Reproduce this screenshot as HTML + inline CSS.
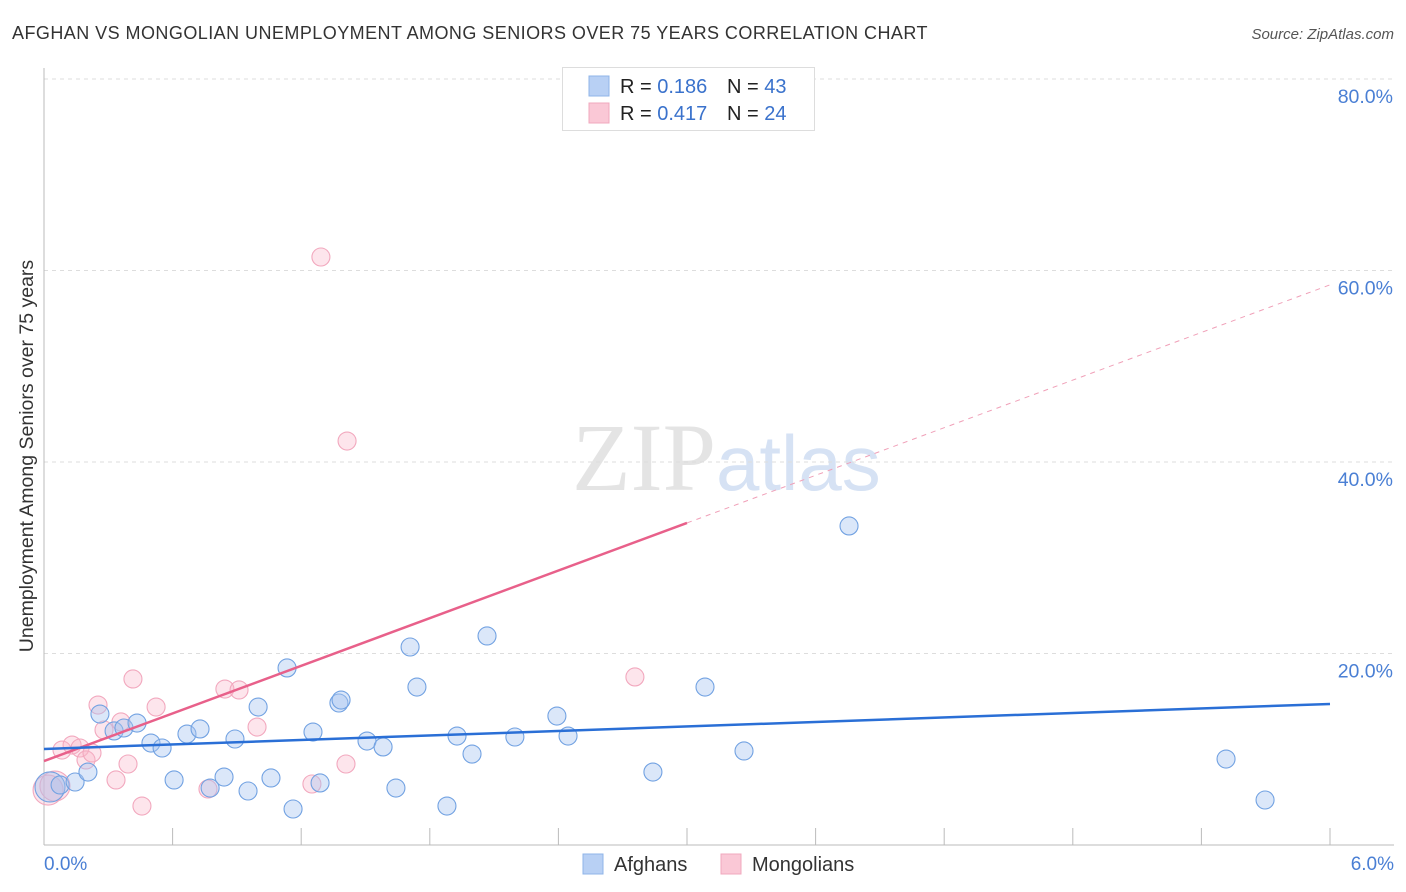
<!DOCTYPE html>
<html><head><meta charset="utf-8"><style>
body{margin:0;background:#fff;font-family:"Liberation Sans",sans-serif;}
svg{display:block}
</style></head><body>
<svg id="c" width="1406" height="892" xmlns="http://www.w3.org/2000/svg">
<text x="12" y="39" font-size="18" letter-spacing="0.45" fill="#333">AFGHAN VS MONGOLIAN UNEMPLOYMENT AMONG SENIORS OVER 75 YEARS CORRELATION CHART</text>
<text x="1394" y="39" font-size="15" font-style="italic" fill="#555" text-anchor="end">Source: ZipAtlas.com</text>
<text x="716" y="490" font-size="96" font-family="Liberation Serif,serif" fill="#e4e4e4" text-anchor="end">ZIP</text>
<text x="716" y="490" font-size="78" fill="#d6e2f4">atlas</text>
<g id="grid"></g><g id="axes"></g><g id="marks"></g>
<text transform="translate(33,456) rotate(-90)" font-size="19.5" fill="#333" text-anchor="middle">Unemployment Among Seniors over 75 years</text>
<text x="44" y="870" font-size="19" fill="#4a7fd4">0.0%</text>
<text x="1394" y="870" font-size="19" fill="#4a7fd4" text-anchor="end">6.0%</text>
<g>
<rect x="562.5" y="67.5" width="252" height="63" fill="#fff" stroke="#ddd"/>
<rect x="589" y="76" width="20" height="20" fill="#b8d0f4" stroke="#8fb4e8"/>
<rect x="589" y="103" width="20" height="20" fill="#fac8d6" stroke="#f0a8be"/>
<text x="620" y="93" font-size="20" fill="#222">R = <tspan fill="#3a72cc">0.186</tspan></text>
<text x="727" y="93" font-size="20" fill="#222">N = <tspan fill="#3a72cc">43</tspan></text>
<text x="620" y="120" font-size="20" fill="#222">R = <tspan fill="#3a72cc">0.417</tspan></text>
<text x="727" y="120" font-size="20" fill="#222">N = <tspan fill="#3a72cc">24</tspan></text>
</g>
<g>
<rect x="583" y="854" width="20" height="20" fill="#b8d0f4" stroke="#8fb4e8"/>
<text x="614" y="871" font-size="20" fill="#333">Afghans</text>
<rect x="721" y="854" width="20" height="20" fill="#fac8d6" stroke="#f0a8be"/>
<text x="752" y="871" font-size="20" fill="#333">Mongolians</text>
</g>
</svg>
<script>
const yTicks=[20,40,60,80];
const yTickLabels=["20.0%","40.0%","60.0%","80.0%"];
const xTicks=[0,0.6,1.2,1.8,2.4,3.0,3.6,4.2,4.8,5.4,6.0];
const afghanX=[0.028,0.075,0.145,0.205,0.261,0.327,0.373,0.434,0.499,0.551,0.607,0.667,0.728,0.775,0.840,0.891,0.952,0.999,1.059,1.134,1.162,1.255,1.288,1.376,1.386,1.507,1.582,1.642,1.708,1.740,1.880,1.927,1.997,2.067,2.197,2.393,2.445,2.841,3.084,3.266,3.756,5.515,5.697];
const afghanY=[6.06,6.27,6.58,7.62,13.68,11.91,12.22,12.74,10.65,10.13,6.79,11.59,12.12,5.95,7.10,11.07,5.64,14.41,7.00,18.49,3.76,11.80,6.48,14.83,15.14,10.86,10.24,5.95,20.68,16.50,4.07,11.38,9.50,21.83,11.28,13.47,11.38,7.62,16.50,9.82,33.32,8.98,4.70];
const mongolX=[0.019,0.051,0.084,0.131,0.168,0.196,0.224,0.252,0.280,0.336,0.359,0.392,0.415,0.457,0.523,0.765,0.844,0.910,0.994,1.250,1.292,1.409,1.414,2.757];
const mongolY=[5.74,6.16,9.92,10.44,10.13,8.88,9.61,14.62,12.01,6.79,12.85,8.46,17.34,4.07,14.41,5.85,16.29,16.19,12.32,6.37,61.41,8.46,42.19,17.55];
const afghanTrend=[10.03,14.73];
const mongolTrend=[8.77,58.5];
const mongolSolidEnd=3.0;
const NS="http://www.w3.org/2000/svg";
const X=v=>44+v/6*1286, Y=v=>845-v/20*191.5;
function mk(p,t,a){const e=document.createElementNS(NS,t);for(const k in a)e.setAttribute(k,a[k]);p.appendChild(e);return e;}
const grid=document.getElementById('grid'),axes=document.getElementById('axes'),marks=document.getElementById('marks');
yTicks.forEach((t,i)=>{
 const l=mk(grid,'line',{x1:44,x2:1394,y1:Y(t),y2:Y(t),stroke:'#ddd','stroke-dasharray':'4,4'});
 
 
 const tx=mk(grid,'text',{x:1393,y:Y(t)+24,'font-size':19.5,fill:'#4a7fd4','text-anchor':'end'});
 tx.textContent=yTickLabels[i];
 
 
});
const ya=mk(axes,'line',{x1:44,x2:44,y1:68,y2:845,stroke:'#bbb'});


const xa=mk(axes,'line',{x1:44,x2:1394,y1:845,y2:845,stroke:'#bbb'});


xTicks.forEach(t=>{
 const l=mk(axes,'line',{x1:X(t),x2:X(t),y1:828,y2:845,stroke:'#bbb'});
 
 
});
function pts(xs,ys,fill,stroke,name){
 xs.forEach((x,i)=>{
  const r=(i<2&&x<0.06)?15:9;
  const c=mk(marks,'circle',{cx:X(x),cy:Y(ys[i]),r:r,fill:fill,stroke:stroke,'stroke-width':1.1});
  
  
 });
}
pts(mongolX,mongolY,'rgba(248,180,200,0.35)','#f2a8be','mongolian-point');
pts(afghanX,afghanY,'rgba(164,196,240,0.4)','#72a2e2','afghan-point');
const slope=(mongolTrend[1]-mongolTrend[0])/6;
const ms=mk(marks,'line',{x1:X(0),y1:Y(mongolTrend[0]),x2:X(mongolSolidEnd),y2:Y(mongolTrend[0]+slope*mongolSolidEnd),stroke:'#e8608a','stroke-width':2.5});


const md=mk(marks,'line',{x1:X(mongolSolidEnd),y1:Y(mongolTrend[0]+slope*mongolSolidEnd),x2:X(6),y2:Y(mongolTrend[1]),stroke:'#f0a0b8','stroke-width':1,'stroke-dasharray':'5,5'});


const at=mk(marks,'line',{x1:X(0),y1:Y(afghanTrend[0]),x2:X(6),y2:Y(afghanTrend[1]),stroke:'#2a6fd6','stroke-width':2.5});


</script>
</body></html>
